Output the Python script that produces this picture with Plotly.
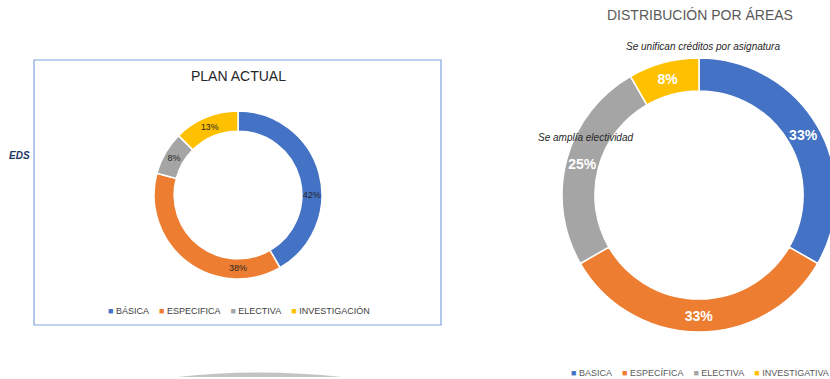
import plotly.graph_objects as go

W, H = 850, 379

# Plan actual (créditos por área)
actual_labels = ["BÁSICA", "ESPECIFICA", "ELECTIVA", "INVESTIGACIÓN"]
actual_values = [10, 9, 2, 3]

# Nuevo plan
nuevo_labels = ["BASICA", "ESPECÍFICA", "ELECTIVA", "INVESTIGATIVA"]
nuevo_values = [4, 4, 3, 1]

colors = ["#4472C4", "#ED7D31", "#A5A5A5", "#FFC000"]


def px(x):
    return x / W


def py(y):
    return 1 - y / H


def dom(cx, cy, r):
    return dict(x=[px(cx - r), px(cx + r)], y=[py(cy + r), py(cy - r)])


def legend_text(labels):
    parts = []
    for lab, c in zip(labels, colors):
        parts.append("<span style='color:%s'>■</span> %s" % (c, lab))
    return "&nbsp;&nbsp;&nbsp;&nbsp;".join(parts)


fig = go.Figure()

fig.add_trace(go.Pie(
    labels=actual_labels, values=actual_values,
    hole=0.76, sort=False, direction="clockwise", rotation=0,
    marker=dict(colors=colors, line=dict(color="white", width=1.5)),
    texttemplate="%{percent:.0%}",
    textposition="inside", insidetextorientation="horizontal",
    textfont=dict(size=9, color="#262626", family="Liberation Sans, Arial"),
    domain=dom(238, 195, 84), showlegend=False,
))

fig.add_trace(go.Pie(
    labels=nuevo_labels, values=nuevo_values,
    hole=0.76, sort=False, direction="clockwise", rotation=0,
    marker=dict(colors=colors, line=dict(color="white", width=1.5)),
    texttemplate="<b>%{percent:.0%}</b>",
    textposition="inside", insidetextorientation="horizontal",
    textfont=dict(size=14, color="white", family="Liberation Sans, Arial"),
    domain=dom(699, 195, 137), showlegend=False,
))

# marco del gráfico izquierdo
fig.add_shape(type="rect", xref="paper", yref="paper",
              x0=px(34), x1=px(441), y0=py(325), y1=py(60),
              line=dict(color="#7FA3DE", width=1.2), fillcolor="rgba(0,0,0,0)")

# sombra decorativa abajo
fig.add_shape(type="path", xref="paper", yref="paper",
              path="M %f %f Q %f %f %f %f Z" % (px(178), py(377), px(260), py(368), px(342), py(377)),
              line=dict(width=0), fillcolor="rgba(175,175,175,0.75)")

ann = [
    dict(text="PLAN ACTUAL", x=px(238), y=py(76), font=dict(size=14, color="#262626")),
    dict(text="<i><b>EDS</b></i>", x=px(19), y=py(155), font=dict(size=10, color="#1F3864")),
    dict(text="DISTRIBUCIÓN POR ÁREAS", x=px(700), y=py(15), font=dict(size=14, color="#595959")),
    dict(text="<i>Se unifican créditos por asignatura</i>", x=px(703), y=py(47),
         font=dict(size=10, color="#262626")),
    dict(text="<i>Se amplía electividad</i>", x=px(585), y=py(137), font=dict(size=10, color="#262626")),
    dict(text=legend_text(actual_labels), x=px(239), y=py(311), font=dict(size=9, color="#404040")),
    dict(text=legend_text(nuevo_labels), x=px(700), y=py(373), font=dict(size=9, color="#595959")),
]
for a in ann:
    fig.add_annotation(xref="paper", yref="paper", showarrow=False,
                       xanchor="center", yanchor="middle", **a)

fig.update_layout(
    width=W, height=H,
    margin=dict(l=0, r=0, t=0, b=0),
    paper_bgcolor="white", plot_bgcolor="white",
    font=dict(family="Liberation Sans, Arial, sans-serif"),
)

fig.write_html("out.html", config={"displayModeBar": False},
               post_script="document.body.style.margin='0';document.body.style.overflow='hidden';")
